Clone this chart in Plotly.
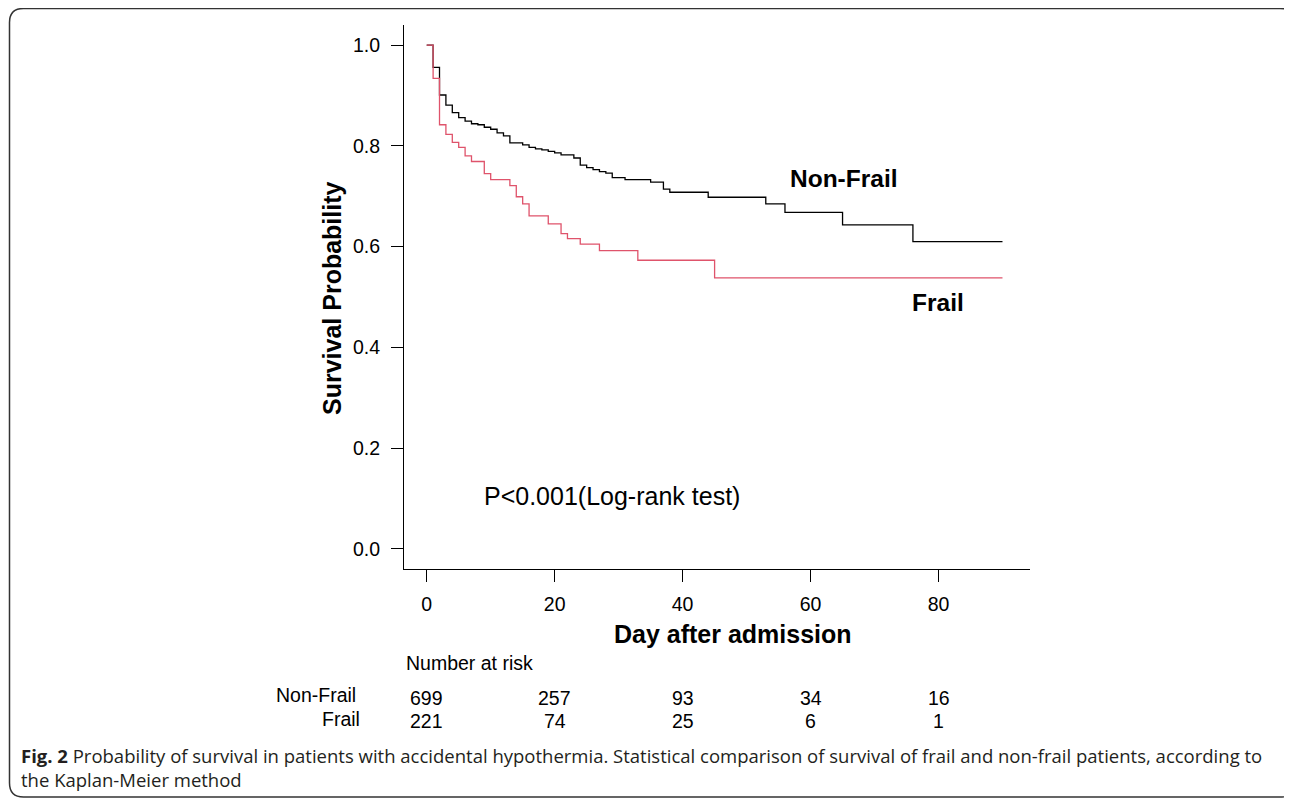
import plotly.graph_objects as go

# ---- data ----
nonfrail_days = [0, 1, 2, 3, 4, 5, 6, 7, 8, 9, 10, 11, 12, 13, 15, 16, 17, 18, 19, 20, 21, 23,
                 24, 25, 26, 27, 28, 29, 31, 35, 37, 38, 44, 53, 56, 65, 76, 90]
nonfrail_surv = [1.0, 0.956, 0.901, 0.881, 0.866, 0.856, 0.849, 0.844, 0.842, 0.837, 0.833, 0.826,
                 0.820, 0.806, 0.802, 0.797, 0.794, 0.792, 0.789, 0.786, 0.782, 0.776,
                 0.762, 0.757, 0.753, 0.749, 0.746, 0.737, 0.733, 0.728, 0.714, 0.708, 0.698,
                 0.685, 0.668, 0.643, 0.610, 0.610]
frail_days = [0, 1, 2, 3, 4, 5, 6, 7, 9, 10, 13, 14, 15, 16, 19, 21, 22, 24, 27, 33, 45, 90]
frail_surv = [1.0, 0.934, 0.842, 0.823, 0.807, 0.797, 0.780, 0.769, 0.745, 0.733, 0.721, 0.699,
              0.685, 0.661, 0.645, 0.626, 0.616, 0.605, 0.592, 0.573, 0.538, 0.538]

risk_times = [0, 20, 40, 60, 80]
risk_nonfrail = [699, 257, 93, 34, 16]
risk_frail = [221, 74, 25, 6, 1]

x_ticks = [0, 20, 40, 60, 80]
y_ticks = [0.0, 0.2, 0.4, 0.6, 0.8, 1.0]

# ---- layout geometry (viewport pixels; page body has an 8px margin) ----
OFF = 8
VW, VH = 1292, 799
W, H = VW - OFF, VH - OFF
PL, PR, PT, PB = 404, 1030, 25, 569          # plot box in viewport pixels
L, T = PL - OFF, PT - OFF
R, B = VW - PR, VH - PB
PW, PH = PR - PL, PB - PT


def px(x):
    return (x - PL) / PW


def py(y):
    return (PB - y) / PH


FONT = "Liberation Sans"
BLACK = "#000000"
RED = "#DF536B"

fig = go.Figure()
fig.add_trace(go.Scatter(x=nonfrail_days, y=nonfrail_surv, mode="lines", line_shape="hv",
                         line=dict(color=BLACK, width=1.3), name="Non-Frail"))
fig.add_trace(go.Scatter(x=frail_days, y=frail_surv, mode="lines", line_shape="hv",
                         line=dict(color=RED, width=1.3), name="Frail"))

ann = []
ann.append(dict(x=56.4, y=0.736, xref="x", yref="y", text="<b>Non-Frail</b>", showarrow=False,
                xanchor="left", yanchor="middle", font=dict(family=FONT, size=24.5, color=BLACK)))
ann.append(dict(x=75.5, y=0.49, xref="x", yref="y", text="<b>Frail</b>", showarrow=False,
                xanchor="left", yanchor="middle", font=dict(family=FONT, size=24.5, color=BLACK)))
ann.append(dict(x=8.6, y=0.105, xref="x", yref="y", text="P<0.001(Log-rank test)", showarrow=False,
                xanchor="left", yanchor="middle", font=dict(family=FONT, size=25, color=BLACK)))
ann.append(dict(x=px(733), y=py(634), xref="paper", yref="paper", text="<b>Day after admission</b>",
                showarrow=False, xanchor="center", yanchor="middle",
                font=dict(family=FONT, size=25, color=BLACK)))
ann.append(dict(x=px(332), y=py(298), xref="paper", yref="paper", text="<b>Survival Probability</b>",
                showarrow=False, xanchor="center", yanchor="middle", textangle=-90,
                font=dict(family=FONT, size=25, color=BLACK)))
RS = 19.5
ann.append(dict(x=px(404), y=py(663), xref="paper", yref="paper", text="Number at risk",
                showarrow=False, xanchor="left", yanchor="middle",
                font=dict(family=FONT, size=RS, color=BLACK)))
ann.append(dict(x=px(358), y=py(695), xref="paper", yref="paper", text="Non-Frail",
                showarrow=False, xanchor="right", yanchor="middle",
                font=dict(family=FONT, size=RS, color=BLACK)))
ann.append(dict(x=px(362), y=py(719), xref="paper", yref="paper", text="Frail",
                showarrow=False, xanchor="right", yanchor="middle",
                font=dict(family=FONT, size=RS, color=BLACK)))
for t, a, b in zip(risk_times, risk_nonfrail, risk_frail):
    ann.append(dict(x=t, y=py(698), xref="x", yref="paper", text=str(a), showarrow=False,
                    xanchor="center", yanchor="middle", font=dict(family=FONT, size=RS, color=BLACK)))
    ann.append(dict(x=t, y=py(721), xref="x", yref="paper", text=str(b), showarrow=False,
                    xanchor="center", yanchor="middle", font=dict(family=FONT, size=RS, color=BLACK)))
CAP = "Open Sans"
CS = 18.5
ann.append(dict(x=px(19), y=py(755), xref="paper", yref="paper",
                text="<b>Fig. 2</b> Probability of survival in patients with accidental hypothermia. "
                     "Statistical comparison of survival of frail and non-frail patients, according to",
                showarrow=False, xanchor="left", yanchor="middle",
                font=dict(family=CAP, size=CS, color="#231f20")))
ann.append(dict(x=px(19), y=py(779), xref="paper", yref="paper", text="the Kaplan-Meier method",
                showarrow=False, xanchor="left", yanchor="middle",
                font=dict(family=CAP, size=CS, color="#231f20")))

# rounded frame (viewport pixels)
x0, x1, y0, y1, r = 9.5, 1294, 8.5, 797, 14
path = (f"M {px(x0 + r)},{py(y0)} L {px(x1 - r)},{py(y0)} Q {px(x1)},{py(y0)} {px(x1)},{py(y0 + r)} "
        f"L {px(x1)},{py(y1 - r)} Q {px(x1)},{py(y1)} {px(x1 - r)},{py(y1)} "
        f"L {px(x0 + r)},{py(y1)} Q {px(x0)},{py(y1)} {px(x0)},{py(y1 - r)} "
        f"L {px(x0)},{py(y0 + r)} Q {px(x0)},{py(y0)} {px(x0 + r)},{py(y0)} Z")
shapes = [dict(type="path", xref="paper", yref="paper", path=path,
               line=dict(color="#333333", width=1.5), fillcolor="rgba(0,0,0,0)", layer="below")]

fig.update_layout(
    width=W, height=H,
    margin=dict(l=L, r=R, t=T, b=B, pad=0),
    paper_bgcolor="white", plot_bgcolor="white",
    showlegend=False,
    annotations=ann, shapes=shapes,
    font=dict(family=FONT, size=RS, color=BLACK),
    xaxis=dict(range=[-3.55, 94.3], tickvals=x_ticks, ticks="outside", ticklen=12, tickwidth=1,
               tickcolor=BLACK, showline=True, linecolor=BLACK, linewidth=1, showgrid=False,
               zeroline=False, ticklabelstandoff=6, tickfont=dict(family=FONT, size=RS, color=BLACK)),
    yaxis=dict(range=[-0.04, 1.04], tickvals=y_ticks, tickformat=".1f", ticks="outside", ticklen=12,
               tickwidth=1, tickcolor=BLACK, showline=True, linecolor=BLACK, linewidth=1,
               showgrid=False, zeroline=False, ticklabelstandoff=7,
               tickfont=dict(family=FONT, size=RS, color=BLACK)),
)

fig.write_html("out.html")
